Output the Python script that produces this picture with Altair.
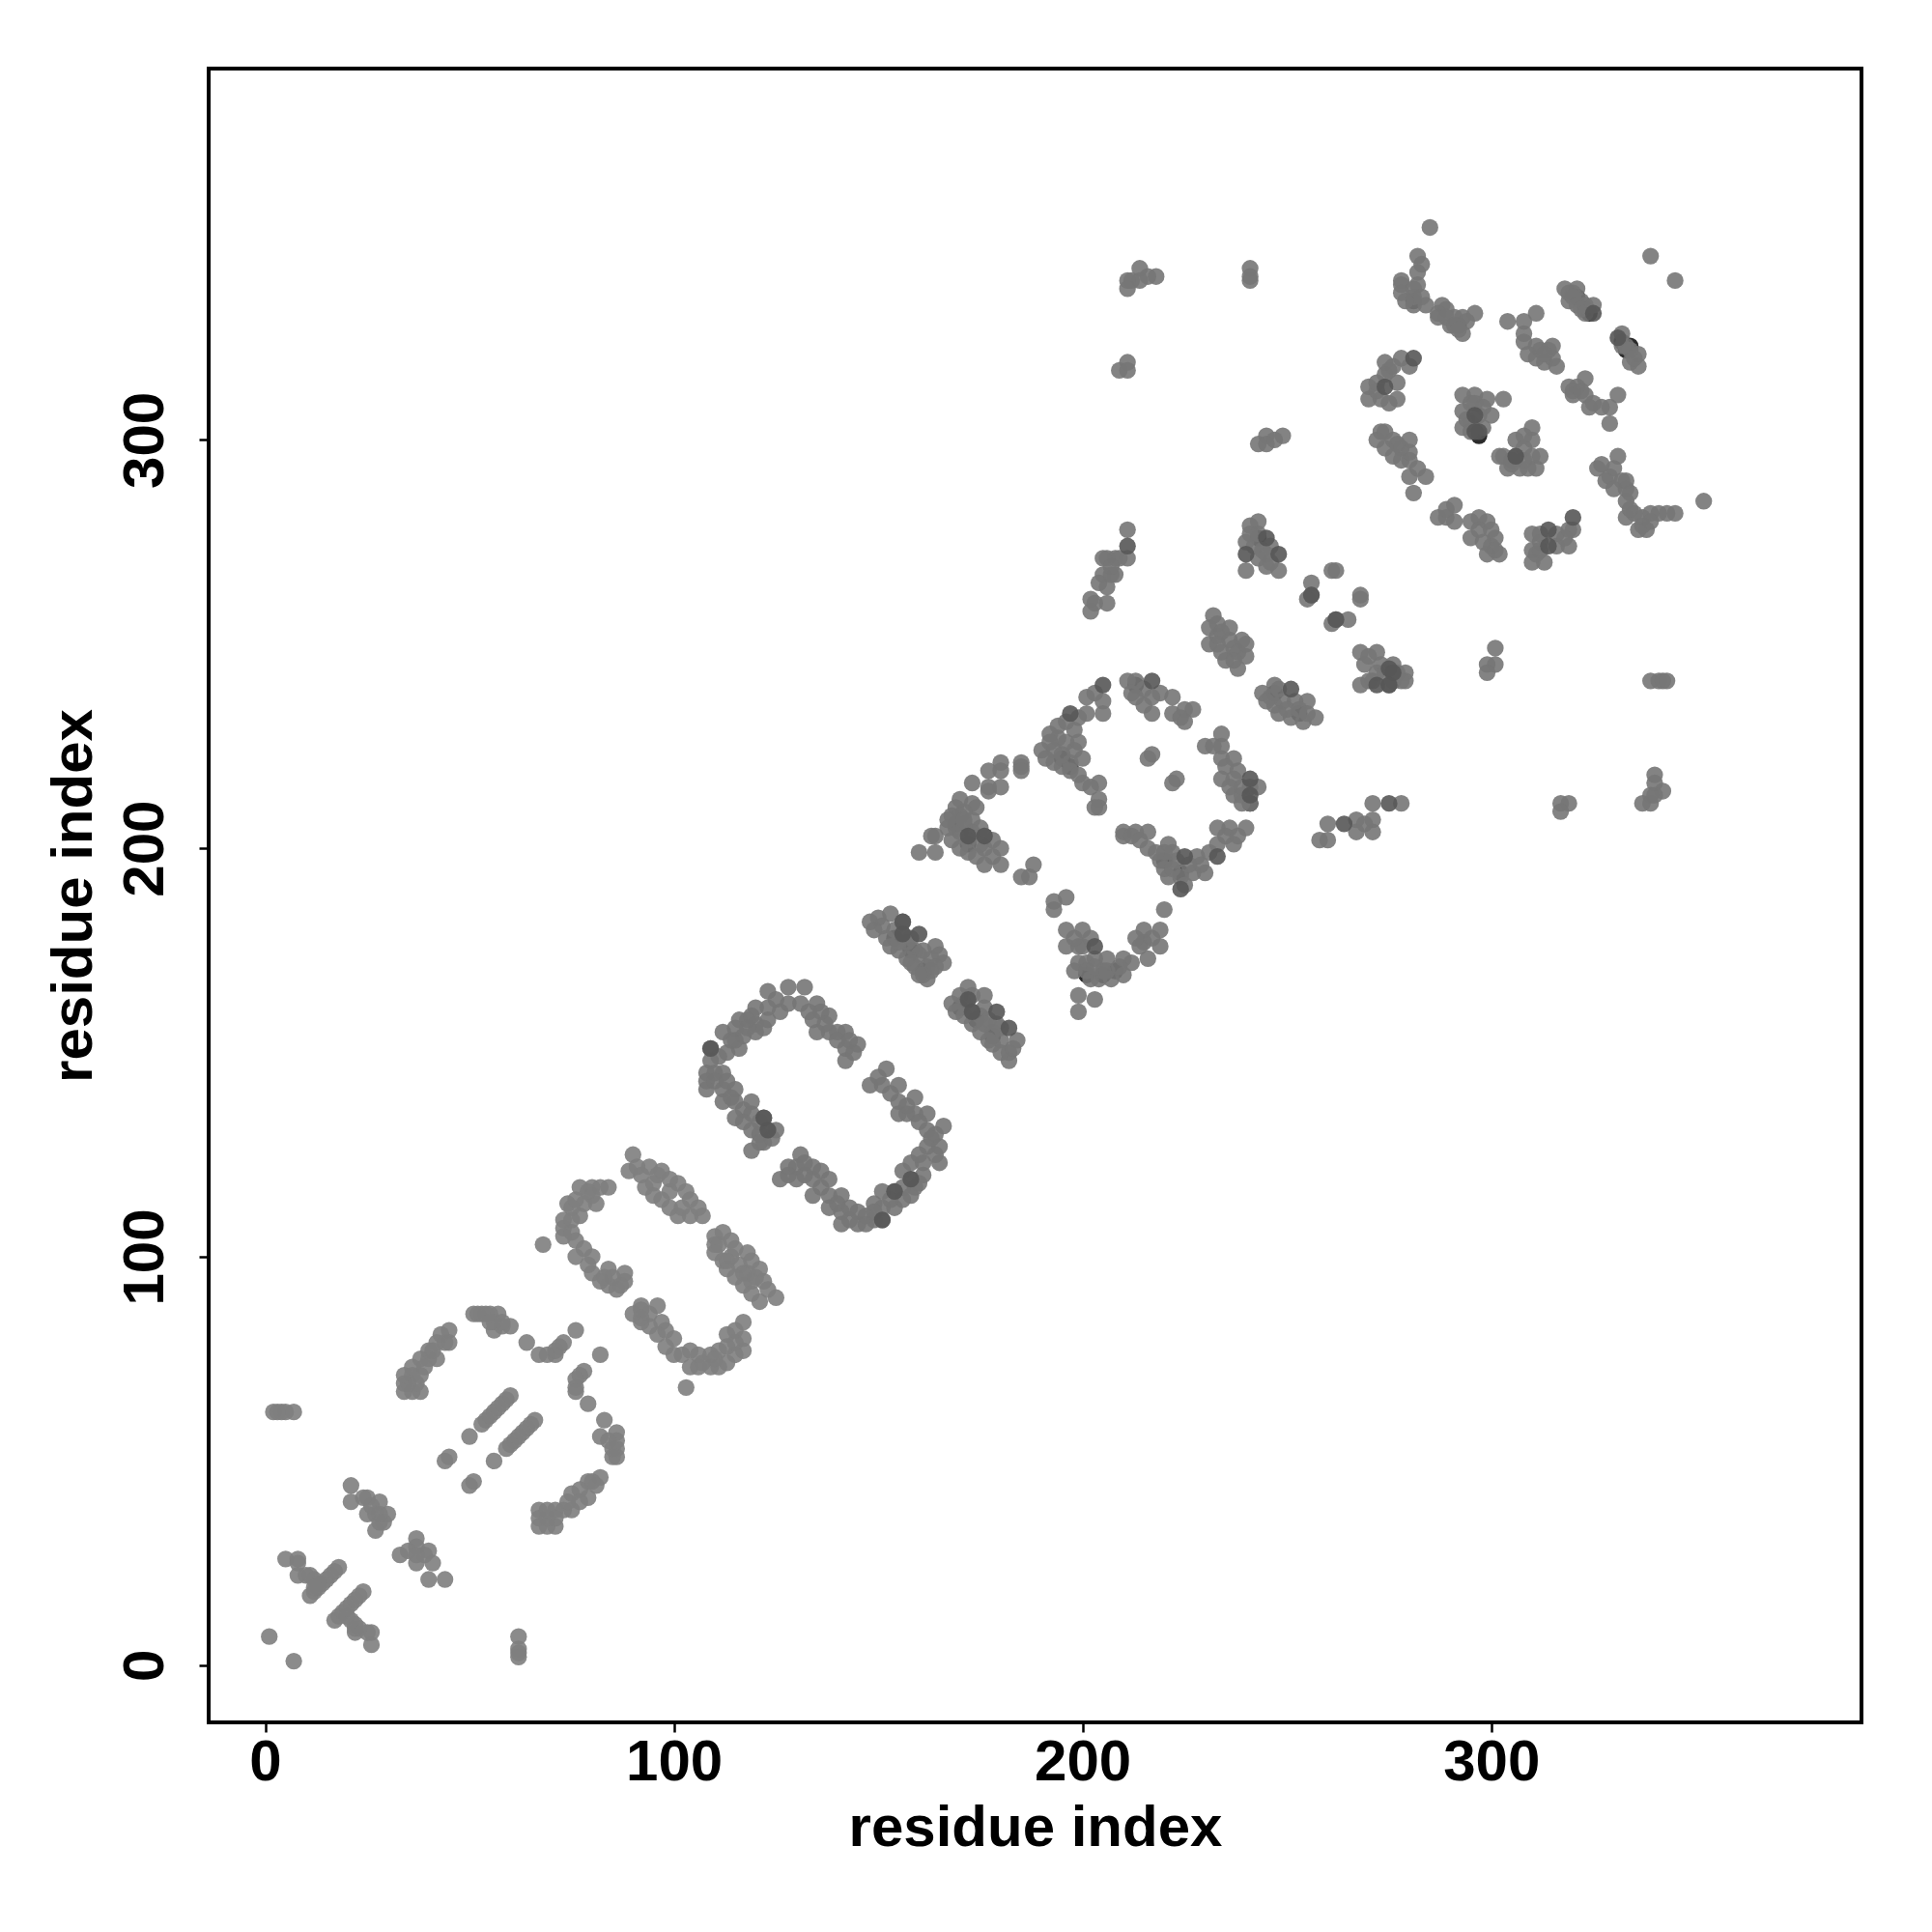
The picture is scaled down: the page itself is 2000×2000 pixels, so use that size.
import altair as alt
import pandas as pd

# residue contact pairs (i, j), grouped by region of the map
near_origin = [(1,7),(7,1),(62,7),(62,4),(62,3),(62,2),(26,8),(26,5),(25,8),(22,8),(22,9),(22,10),(23,9),(21,11),(20,12),
    (17,11),(18,12),(19,13),(20,14),(21,15),(22,16),(23,17),(24,18),(11,17),(12,18),(13,19),(14,20),(15,21),(16,22),(17,23),(18,24),
    (5,26),(8,26),(8,25),(8,22),(10,22),(11,22),(12,21),(13,20),(12,19)]
cluster_b = [(21,44),(21,40),(25,41),(28,40),(25,37),(30,37),(27,33),(29,35),(27,37),(26,39),(24,41),(28,37),(28,35),
    (37,31),(33,27),(37,29),(40,28),(41,25),(37,25),(40,21),(44,21),(35,28),(39,27),(37,27)]
far_left = [(2,62),(3,62),(4,62),(5,62),(7,62)]
strands = [(53,59),(54,60),(55,61),(56,62),(57,63),(58,64),(59,65),(60,66),(50,56),(44,50),(45,51),
    (66,60),(65,59),(64,58),(63,57),(62,56),(61,55),(60,54),(59,53),(56,50),(50,44),(51,45)]
arc_one = [(34,67),(34,69),(34,71),(36,67),(38,67),(36,71),(38,71),(38,75),(36,73),(42,75),(42,79),(45,82),(45,79),(44,79),(40,77),(40,75),
    (51,86),(53,86),(54,86),(55,86),(57,86),(56,84),(56,82),(60,83),(58,83),(64,79),(67,76),(69,76),(71,76),(71,77),(72,78),(73,79),(76,82),
    (82,76),(78,72),(77,71),(76,70),(76,68),(76,67),(79,64),(83,60),(82,56),(86,57),(86,55),(86,53),(86,51),(84,55),
    (82,46),(80,45),(79,45),(75,42),(77,43),(79,41),(75,38),(73,38),(71,38),(67,38),(67,36),(67,34),(71,34),(69,34),(71,36),
    (35,69),(37,69),(39,73),(41,77),(43,81),(52,86),(55,84),(58,84),(74,40),(77,40),(81,44),(69,36),(69,38),(85,53),(85,51)]
letter_s = [(68,103),(77,117),(80,117),(82,117),(84,117),(74,113),(81,113),(78,113),(80,115),(77,110),(75,112),(73,109),(73,107),(73,105),(76,104),(76,100),
    (80,100),(80,96),(84,97),(88,96),(84,93),(86,92),(88,94),(85,95),(82,94),
    (90,125),(89,121),(94,122),(97,121),(93,117),(97,114),(101,118),(101,110),(104,114),(106,112),(104,110),(95,118),(99,116),(92,120),
    (112,106),(110,103),(110,101),(114,104),(113,97),(118,101),(121,97),(117,93),(122,94),(121,89),(125,90),(117,96),(114,100),(112,99),(116,98),(119,94),(110,105),
    (92,88),(92,87),(96,88),(92,84),(97,84),(92,85),(94,86),(96,81),(100,80),(100,76),(104,77),(104,73),(109,73),(109,76),(107,74),(113,74),(113,81),(113,78),(117,77),(117,80),(117,84),(103,68),(106,73),(111,77),
    (83,95),(87,93),(79,98),(78,102),(75,106),(75,109),(76,114),(79,116),(91,122),(96,120),(99,119),(95,115),(99,112),(102,112),(103,116),(107,110),(111,103),(115,102),(113,99),(119,99),(118,96),(115,95),(120,95),(119,91),(123,92),
    (94,83),(98,82),(98,78),(102,76),(106,76),(110,75),(111,73),(115,76),(115,79),(115,82),(90,86)]
zero_loop = [(132,166),(128,166),(123,165),(128,162),(131,162),(135,162),(123,161),(120,161),(116,158),(120,157),(123,158),(118,158),(112,155),(117,154),(116,151),(113,150),(115,153),
    (109,151),(109,148),(108,145),(112,145),(110,145),(108,143),(108,141),(112,141),(115,141),(112,138),(115,138),(119,138),(115,134),(119,135),(122,134),(119,131),(123,131),(125,131),(119,126),(122,128),(121,130),
    (135,155),(134,158),(138,159),(138,155),(142,155),(142,151),(145,152),(142,148),(140,155),(136,160),
    (152,146),(148,142),(151,142),(155,142),(155,138),(159,139),(159,135),(155,135),(162,135),(157,135),(162,131),(166,132),(165,127),(162,127),(165,123),(158,123),(161,123),(161,120),(158,119),(158,115),(154,116),(154,112),(151,116),(151,112),(151,109),(159,117),(156,114),
    (131,125),(126,119),(128,122),(130,122),(130,119),(134,122),(134,119),(138,119),(134,115),(138,115),(141,115),(138,112),(141,108),(145,111),(145,108),(141,111),(149,109),(143,109),(147,108),
    (125,163),(126,160),(119,159),(114,153),(111,149),(110,143),(113,143),(114,139),(117,136),(117,133),(121,133),(121,128),(124,129),(120,155),(122,156),(118,156),(115,156),(133,160),(137,157),(140,153),(144,150),(143,153),(150,144),(153,140),(157,137),(160,133),(164,130),(163,129),(164,125),(160,125),(156,121),(160,118),(156,117),(153,114),(149,113),(147,110),(149,111),(132,120),(136,117),(140,113),(143,112),(136,121),(128,120),(132,123)]
band_one = [(148,182),(150,183),(153,184),(156,182),(152,178),(156,179),(155,175),(159,175),(164,176),(159,171),(162,171),(166,172),(162,168),(154,180),(157,177),(160,174),(163,173),(151,181),(161,169),
    (172,166),(168,162),(176,164),(171,162),(171,159),(175,159),(175,155),(178,155),(184,153),(178,152),(182,148),(182,150),(173,164),(176,161),(180,153),(170,164),
    (149,180),(153,176),(157,173),(161,175),(158,178),(163,170),(165,174),(160,169),(164,171),(158,172),(155,177),(169,160),(173,160),(173,157),(177,158),(177,153),(180,156),(180,150),(183,151),(176,157),(179,157)]
middle_arc = [(160,199),(164,203),(164,199),(163,203),(173,216),(177,219),(177,215),(177,214),(180,221),(180,219),(180,215),(185,221),(185,220),(173,211),(174,210),(169,210),(168,208),(169,205),(173,207),(173,204),(168,202),(172,202),(176,203),(176,200),(180,200),(172,199),(176,196),(180,196),(171,206),(170,208),
    (188,196),(187,193),(185,193),(193,187),(196,188),(193,185),
    (211,241),(213,241),(213,237),(217,237),(217,233),(222,237),(222,233),(225,234),(227,234),(225,231),(215,239),
    (234,228),(234,225),(230,225),(234,222),(237,222),(234,217),(237,217),(237,213),(241,211),(239,215),(241,215),
    (201,237),(205,236),(201,233),(205,233),(198,229),(194,230),(194,227),(198,224),(193,224),(190,224),(197,219),(193,221),(200,222),(197,221),(185,219),(195,223),
    (200,216),(204,216),(204,212),(204,210),(203,210),(217,223),(216,222),(223,217),(222,216),
    (210,204),(210,203),(213,204),(216,204),(216,200),(221,201),(219,197),(228,198),(221,193),(224,193),(227,194),(230,194),(233,205),(236,205),(240,205),(233,201),(237,201),(223,197),(220,195),
    (196,180),(200,180),(196,176),(200,176),(203,173),(199,172),(201,172),(206,173),(210,173),(202,168),(204,168),(207,168),(210,169),(205,170),(199,164),(203,163),(199,160),(216,173),(215,180),(219,180),(220,185),(215,177),(219,176),(214,176),(212,172),
    (170,204),(171,209),(175,205),(175,201),(178,198),(174,198),(170,200),(178,202),(170,212),(171,207),(167,205),(167,207),(203,238),(199,232),(196,231),(196,226),(192,228),(192,226),(199,226),(195,220),(199,218),(191,222),(202,215),(212,238),(215,235),(219,238),(224,232),(232,225),(235,220),(238,219),(239,211),(239,213),(236,215),(243,215),(235,203),(238,203),(231,199),(229,196),(226,196),(222,199),(222,195),(225,191),(220,199),(218,199),(198,170),(201,170),(203,171),(206,170),(209,171),(199,176),(198,178),(202,178),(213,178),(217,178),(212,203),(214,202)]
right_segment = [(271,211),(278,211),(267,207),(271,207),(260,206),(271,204),(267,204),(258,202),(260,202),(269,206),(301,249),(301,245),(299,245),(299,243),(339,241),(341,241),(342,241),(343,241),(317,211),(319,211),(317,209),(340,218),(340,216),(342,214),(339,213),(337,211),(339,211),(340,213)]
upper_ladder = [(232,257),(231,254),(231,250),(236,254),(236,251),(235,246),(239,251),(240,247),(238,244),(233,252),(234,248),(244,238),(247,240),(247,235),(252,236),(255,236),(251,232),(254,231),(257,232),(249,236),(246,237),
    (268,248),(272,248),(269,245),(273,245),(276,245),(279,243),(268,240),(275,240),(279,241),(272,243),(276,242),
    (261,268),(262,268),(256,265),(256,262),(255,261),(268,262),(268,261),(265,256),(262,256),(261,255),
    (214,342),(218,340),(216,340),(214,339),(212,339),(211,339),(211,337),(241,342),(241,339),(241,340),(211,319),(209,317),(211,317),
    (249,301),(245,301),(243,299),(245,299),(247,300),
    (211,278),(211,271),(208,271),(206,271),(205,271),(205,267),(208,267),(206,264),(206,260),(202,261),(202,258),
    (243,280),(241,279),(240,275),(240,268),(245,269),(248,268),(242,274),(245,272),(243,271),
    (233,255),(234,253),(237,249),(233,250),(238,248),(237,246),(240,250),(248,239),(250,234),(253,234),(255,233),(248,233),(245,236),(270,247),(271,241),(274,243),(277,243),(270,241),(278,241),(203,260),(204,265),(207,267),(209,271),(207,269),(241,277),(243,277),(246,274),(244,273),(246,270)]
far_corner = [(285,352),(339,345),(345,339),(352,285),(282,345),(282,341),(282,338),(278,339),(278,336),(281,333),(284,333),(281,335),(278,338),(283,343),
    (288,333),(289,332),(293,326),(293,330),(296,331),(291,330),(287,330),(290,328),
    (304,329),(308,329),(311,331),(308,324),(311,323),(315,323),(311,320),(315,320),(313,319),(308,326),
    (318,337),(321,337),(322,334),(319,334),(320,336),(323,333),(333,323),(336,321),(336,318),(334,319),
    (323,315),(319,313),(320,311),(323,311),(324,308),(327,308),(329,308),(331,311),(329,304),(321,313),
    (331,296),(326,293),(329,291),(332,290),(333,288),(333,285),(333,281),(337,281),(341,282),(345,282),(338,278),(336,278),(335,282),(339,282),(343,282),(330,293),
    (320,278),(319,274),(316,274),(310,277),(310,273),(310,270),(313,270),(312,275),
    (291,284),(287,281),(289,281),(291,280),(295,280),(295,276),(299,280),(301,276),(299,272),(302,272),(300,274),
    (273,302),(272,300),(276,300),(280,300),(276,296),(280,295),(280,291),(284,291),(281,287),(278,298),
    (278,320),(274,319),(274,316),(277,314),(270,313),(270,310),(273,310),(277,310),
    (293,311),(296,311),(299,310),(303,310),(293,307),(300,306),(293,303),(297,306),
    (310,303),(306,300),(310,300),(310,296),(311,293),(306,296),(302,296),(304,293),(307,293),
    (281,337),(279,334),(283,335),(287,331),(289,330),(291,328),(294,329),(292,327),(319,336),(320,335),(321,333),(322,332),(323,331),(325,333),(332,323),(334,322),(332,326),(335,320),(320,312),(322,312),(325,309),(328,290),(330,288),(327,294),(333,290),(334,287),(334,283),(337,279),(339,280),(312,277),(311,272),(316,277),(318,276),(319,278),(312,273),(297,281),(297,278),(300,278),(298,275),(301,273),(289,283),(274,302),(277,299),(278,295),(282,293),(274,298),(280,297),(275,317),(272,312),(275,309),(272,314),(276,318),(280,318),(295,309),(298,308),(295,304),(295,302),(294,305),(298,303),(296,309),(308,295),(305,294),(308,301),(308,298),(312,296),(303,296),(309,293),(312,322),(309,321),(316,318),(314,322),(313,321)]
# pairs with a higher contact count, darker and drawn over the rest
strong = [(160,179),(156,182),(179,160),(182,156),(109,151),(123,131),(122,134),(158,119),(154,116),(151,109),
    (217,241),(205,240),(197,233),(275,211),(264,206),(275,244),(272,240),(251,239),(233,198),(224,190),(225,198),(203,176),(241,217),(241,213),
    (245,276),(248,272),(240,272),(211,274),(325,331),(331,325),(281,320),(274,313),(296,306),(297,302),(314,278),(314,274),(320,281),
    (262,256),(256,262),(276,243),(306,296),(275,240),(296,302),(172,203),(176,203),(156,179),(172,163),(173,160)]
# pairs with the highest count, mostly hidden under the others
strongest = [(321,335),(323,332),(324,331),(332,324),(333,322),(334,323),(154,178),(158,175),(161,170),(170,161),(174,158),(178,154),
    (169,206),(172,201),(195,222),(197,220),(201,169),(205,169),(208,170),(220,197),(224,194),(241,211),(213,240),(276,241),(247,238),(253,233),
    (297,301),(281,334),(243,276),(292,328),(305,295)]

tick_values = [0, 100, 200, 300]
axis_label = "residue index"

sparse = near_origin + cluster_b + far_left + strands + arc_one + letter_s
dense = zero_loop + band_one + middle_arc + right_segment + upper_ladder + far_corner
rows = [dict(i=a, j=b, level="c") for a, b in strongest] + \
       [dict(i=a, j=b, level="a") for a, b in sparse] + \
       [dict(i=a, j=b, level="d") for a, b in dense] + \
       [dict(i=a, j=b, level="b") for a, b in strong]
df = pd.DataFrame(rows)

font = "Liberation Sans"
chart = alt.Chart(df).mark_circle(size=300, opacity=0.9, stroke=None).encode(
    x=alt.X("i:Q", scale=alt.Scale(domain=[-13.83, 390.6], nice=False, zero=False),
            axis=alt.Axis(title=axis_label, values=tick_values, domain=False, grid=False, tickSize=10, tickWidth=2.5, tickColor="black",
                          labelFont=font, labelFontSize=60, labelFontWeight="bold", labelColor="black", labelPadding=2, labelFlush=False,
                          titleFont=font, titleFontSize=60, titleFontWeight="bold", titleColor="black", titlePadding=9, format="d")),
    y=alt.Y("j:Q", scale=alt.Scale(domain=[-14, 390.9], nice=False, zero=False),
            axis=alt.Axis(title=axis_label, values=tick_values, domain=False, grid=False, tickSize=10, tickWidth=2.5, tickColor="black",
                          labelFont=font, labelFontSize=60, labelFontWeight="bold", labelColor="black", labelAngle=270, labelAlign="center", labelBaseline="bottom", labelPadding=25, labelFlush=False,
                          titleFont=font, titleFontSize=60, titleFontWeight="bold", titleColor="black", titlePadding=13, format="d")),
    color=alt.Color("level:N", legend=None, scale=alt.Scale(domain=["a", "d", "b", "c"], range=["#7e7e7e", "#757575", "#575757", "#141414"])),
).properties(
    width=1711, height=1712,
    padding={"left": 208, "top": 63, "right": 20, "bottom": 150},
    autosize=alt.AutoSizeParams(type="none"),
).configure_view(stroke="black", strokeWidth=4)

chart.save("out.html", embed_options={"renderer": "svg", "actions": False})
